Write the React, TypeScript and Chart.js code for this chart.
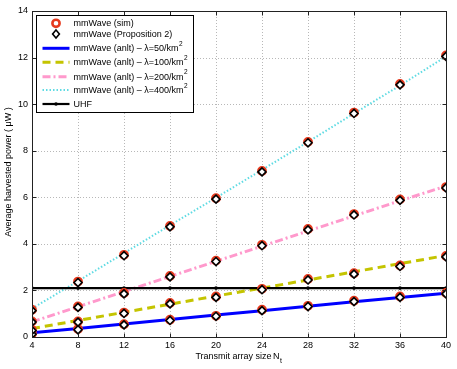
import React, { useEffect, useRef } from "react";
import { Chart, registerables } from "chart.js";

Chart.register(...registerables);

const FONT = "'Liberation Sans', Arial, Helvetica, sans-serif";
const FS = 9;

// ---- data ----
const arraySizes = [4, 8, 12, 16, 20, 24, 28, 32, 36, 40];
const xTicks = [4, 8, 12, 16, 20, 24, 28, 32, 36, 40];
const yTicks = [0, 2, 4, 6, 8, 10, 12, 14];

const sim50 = [0.14, 0.34, 0.55, 0.74, 0.91, 1.17, 1.34, 1.56, 1.74, 1.89];
const sim100 = [0.31, 0.67, 1.05, 1.46, 1.74, 2.07, 2.49, 2.74, 3.07, 3.48];
const sim200 = [0.67, 1.31, 1.89, 2.62, 3.28, 3.96, 4.64, 5.28, 5.91, 6.44];
const sim400 = [1.17, 2.38, 3.53, 4.77, 5.96, 7.13, 8.38, 9.64, 10.87, 12.09];

const prop50 = [0.12, 0.31, 0.52, 0.71, 0.89, 1.13, 1.31, 1.52, 1.7, 1.85];
const prop100 = [0.28, 0.64, 1.01, 1.42, 1.7, 2.03, 2.45, 2.7, 3.03, 3.44];
const prop200 = [0.64, 1.27, 1.85, 2.58, 3.24, 3.92, 4.6, 5.24, 5.87, 6.4];
const prop400 = [1.13, 2.34, 3.49, 4.73, 5.92, 7.09, 8.34, 9.6, 10.83, 12.05];

const anlt50 = [0.18, 0.37, 0.56, 0.75, 0.94, 1.13, 1.32, 1.51, 1.7, 1.88];
const anlt100 = [0.36, 0.71, 1.06, 1.41, 1.76, 2.1, 2.45, 2.8, 3.15, 3.5];
const anlt200 = [0.65, 1.3, 1.95, 2.6, 3.25, 3.9, 4.55, 5.2, 5.85, 6.48];
const anlt400 = [1.22, 2.4, 3.6, 4.8, 5.98, 7.18, 8.38, 9.6, 10.8, 12.05];

const uhf = [2.1, 2.1, 2.1, 2.1, 2.1, 2.1, 2.1, 2.1, 2.1, 2.1];

const legendLabels = [
  "mmWave (sim)",
  "mmWave (Proposition 2)",
  "mmWave (anlt) \u2013 \u03bb=50/km",
  "mmWave (anlt) \u2013 \u03bb=100/km",
  "mmWave (anlt) \u2013 \u03bb=200/km",
  "mmWave (anlt) \u2013 \u03bb=400/km",
  "UHF",
];
const legendSup = ["", "", "2", "2", "2", "2", ""];

const yTitle = "Average harvested power ( \u03bcW )";
const xTitle = "Transmit array size ";
const xTitleVar = "N";
const xTitleSub = "t";

const pts = (ys: number[]) => arraySizes.map((x, i) => ({ x, y: ys[i] }));

const RED = "#e63a1e";
const BLUE = "#0000ff";
const YELLOW = "#c4c400";
const PINK = "#ff99cc";
const CYAN = "#5fdbe3";

const frameGridPlugin = {
  id: "frameGrid",
  beforeDatasetsDraw(chart: any) {
    const { ctx, chartArea } = chart;
    const xs = chart.scales.x;
    const ys = chart.scales.y;
    ctx.save();
    ctx.strokeStyle = "#b8b8b8";
    ctx.lineWidth = 1;
    ctx.setLineDash([1, 2]);
    for (const t of xTicks) {
      const px = Math.round(xs.getPixelForValue(t)) + 0.5;
      ctx.beginPath();
      ctx.moveTo(px, chartArea.top);
      ctx.lineTo(px, chartArea.bottom);
      ctx.stroke();
    }
    for (const t of yTicks) {
      const py = Math.round(ys.getPixelForValue(t)) + 0.5;
      ctx.beginPath();
      ctx.moveTo(chartArea.left, py);
      ctx.lineTo(chartArea.right, py);
      ctx.stroke();
    }
    ctx.restore();
  },
  afterDraw(chart: any) {
    const { ctx, chartArea } = chart;
    const xs = chart.scales.x;
    const ys = chart.scales.y;
    const L = Math.round(chartArea.left) + 0.5;
    const R = Math.round(chartArea.right) + 0.5;
    const T = Math.round(chartArea.top) + 0.5;
    const B = Math.round(chartArea.bottom) + 0.5;
    ctx.save();
    ctx.strokeStyle = "#222";
    ctx.lineWidth = 1;
    ctx.setLineDash([]);
    ctx.strokeRect(L, T, R - L, B - T);
    const tl = 4;
    ctx.beginPath();
    for (const t of xTicks) {
      const px = Math.round(xs.getPixelForValue(t)) + 0.5;
      ctx.moveTo(px, B);
      ctx.lineTo(px, B - tl);
      ctx.moveTo(px, T);
      ctx.lineTo(px, T + tl);
    }
    for (const t of yTicks) {
      const py = Math.round(ys.getPixelForValue(t)) + 0.5;
      ctx.moveTo(L, py);
      ctx.lineTo(L + tl, py);
      ctx.moveTo(R, py);
      ctx.lineTo(R - tl, py);
    }
    ctx.stroke();

    // axis titles
    ctx.fillStyle = "#000";
    ctx.font = `${FS}px ${FONT}`;
    ctx.textBaseline = "middle";
    ctx.save();
    ctx.translate(9, 172);
    ctx.rotate(-Math.PI / 2);
    ctx.textAlign = "center";
    ctx.fillText(yTitle, 0, 0);
    ctx.restore();

    ctx.textAlign = "left";
    const w1 = ctx.measureText(xTitle).width;
    const w2 = ctx.measureText(xTitleVar).width;
    ctx.font = `7px ${FONT}`;
    const w3 = ctx.measureText(xTitleSub).width;
    const cx = (chartArea.left + chartArea.right) / 2;
    const x0 = cx - (w1 + w2 + w3) / 2;
    const ty = 357;
    ctx.font = `${FS}px ${FONT}`;
    ctx.fillText(xTitle, x0, ty);
    ctx.fillText(xTitleVar, x0 + w1 - 1, ty);
    ctx.font = `7px ${FONT}`;
    ctx.fillText(xTitleSub, x0 + w1 + w2 - 0.5, ty + 4);

    // legend
    const bx = 36.5, by = 15.5, bw = 157, bh = 97;
    ctx.fillStyle = "#fff";
    ctx.fillRect(bx, by, bw, bh);
    ctx.strokeStyle = "#000";
    ctx.lineWidth = 1;
    ctx.strokeRect(bx, by, bw, bh);
    const rowsY = [23.3, 34, 48.3, 62.3, 76.7, 90, 104];
    const lx0 = 42.5, lx1 = 69.5, lmid = 56, tx = 73.5;
    const ds = chart.data.datasets;
    ds.forEach((d: any, i: number) => {
      const y = rowsY[i];
      ctx.save();
      if (d.showLine !== false) {
        ctx.strokeStyle = d.borderColor;
        ctx.lineWidth = d.borderWidth;
        ctx.setLineDash(d.borderDash || []);
        ctx.beginPath();
        ctx.moveTo(lx0, y);
        ctx.lineTo(lx1, y);
        ctx.stroke();
      }
      ctx.setLineDash([]);
      if (d.pointRadius > 0) {
        ctx.fillStyle = d.pointBackgroundColor;
        ctx.strokeStyle = d.pointBorderColor;
        ctx.lineWidth = d.pointBorderWidth;
        const r = d.pointRadius;
        ctx.beginPath();
        if (d.pointStyle === "rectRot") {
          ctx.moveTo(lmid, y - r);
          ctx.lineTo(lmid + r * 0.85, y);
          ctx.lineTo(lmid, y + r);
          ctx.lineTo(lmid - r * 0.85, y);
          ctx.closePath();
        } else {
          ctx.arc(lmid, y, r, 0, Math.PI * 2);
        }
        ctx.fill();
        if (d.pointBorderWidth > 0) ctx.stroke();
      }
      ctx.restore();
      ctx.fillStyle = "#000";
      ctx.font = `${FS}px ${FONT}`;
      ctx.textAlign = "left";
      ctx.textBaseline = "middle";
      ctx.fillText(legendLabels[i], tx, y + 0.5);
      if (legendSup[i]) {
        const w = ctx.measureText(legendLabels[i]).width;
        ctx.font = `6.5px ${FONT}`;
        ctx.fillText(legendSup[i], tx + w + 0.5, y - 4);
      }
    });
    ctx.restore();
  },
};

export default function App() {
  const ref = useRef<HTMLCanvasElement | null>(null);
  useEffect(() => {
    if (!ref.current) return;
    const chart = new Chart(ref.current, {
      type: "line",
      data: {
        datasets: [
          {
            label: legendLabels[0],
            data: [...pts(sim50), ...pts(sim100), ...pts(sim200), ...pts(sim400)],
            showLine: false,
            pointStyle: "circle",
            pointRadius: 3.6,
            pointBackgroundColor: "#ffffff",
            pointBorderColor: RED,
            pointBorderWidth: 2.6,
            borderColor: RED,
            order: 1,
          } as any,
          {
            label: legendLabels[1],
            data: [...pts(prop50), ...pts(prop100), ...pts(prop200), ...pts(prop400)],
            showLine: false,
            pointStyle: "rectRot",
            pointRadius: 4,
            pointBackgroundColor: "#ffffff",
            pointBorderColor: "#000000",
            pointBorderWidth: 1.6,
            borderColor: "#000",
            order: 0,
          },
          {
            label: legendLabels[2],
            data: pts(anlt50),
            borderColor: BLUE,
            borderWidth: 3,
            pointRadius: 0,
            order: 6,
          },
          {
            label: legendLabels[3],
            data: pts(anlt100),
            borderColor: YELLOW,
            borderWidth: 3,
            borderDash: [8, 5],
            pointRadius: 0,
            order: 5,
          },
          {
            label: legendLabels[4],
            data: pts(anlt200),
            borderColor: PINK,
            borderWidth: 3,
            borderDash: [8, 3, 2, 3],
            pointRadius: 0,
            order: 4,
          },
          {
            label: legendLabels[5],
            data: pts(anlt400),
            borderColor: CYAN,
            borderWidth: 2,
            borderDash: [1.5, 2],
            pointRadius: 0,
            order: 3,
          },
          {
            label: legendLabels[6],
            data: pts(uhf),
            borderColor: "#000",
            borderWidth: 2.2,
            pointStyle: "circle",
            pointRadius: 1.8,
            pointBackgroundColor: "#000",
            pointBorderColor: "#000",
            pointBorderWidth: 0,
            order: 2,
          },
        ],
      },
      options: {
        animation: false,
        responsive: false,
        maintainAspectRatio: false,
        layout: { padding: { top: 11, right: 11, left: 0, bottom: 0 } },
        plugins: { legend: { display: false }, tooltip: { enabled: false } },
        elements: { line: { tension: 0 } },
        scales: {
          x: {
            type: "linear",
            min: 4,
            max: 40,
            afterBuildTicks: (s: any) => {
              s.ticks = xTicks.map((v) => ({ value: v }));
            },
            afterFit: (s: any) => {
              s.height = 32;
            },
            grid: { display: false, drawTicks: false },
            border: { display: false },
            ticks: {
              color: "#000",
              padding: 3,
              maxRotation: 0,
              font: { family: FONT, size: FS },
            },
          },
          y: {
            type: "linear",
            min: 0,
            max: 14,
            afterBuildTicks: (s: any) => {
              s.ticks = yTicks.map((v) => ({ value: v }));
            },
            afterFit: (s: any) => {
              s.width = 32;
            },
            grid: { display: false, drawTicks: false },
            border: { display: false },
            ticks: {
              color: "#000",
              padding: 4,
              font: { family: FONT, size: FS },
            },
          },
        },
      } as any,
      plugins: [frameGridPlugin],
    });
    return () => chart.destroy();
  }, []);
  return (
    <div style={{ position: "fixed", left: 0, top: 0, width: 457, height: 369, background: "#fff" }}>
      <canvas ref={ref} width={457} height={369} style={{ display: "block" }} />
    </div>
  );
}
